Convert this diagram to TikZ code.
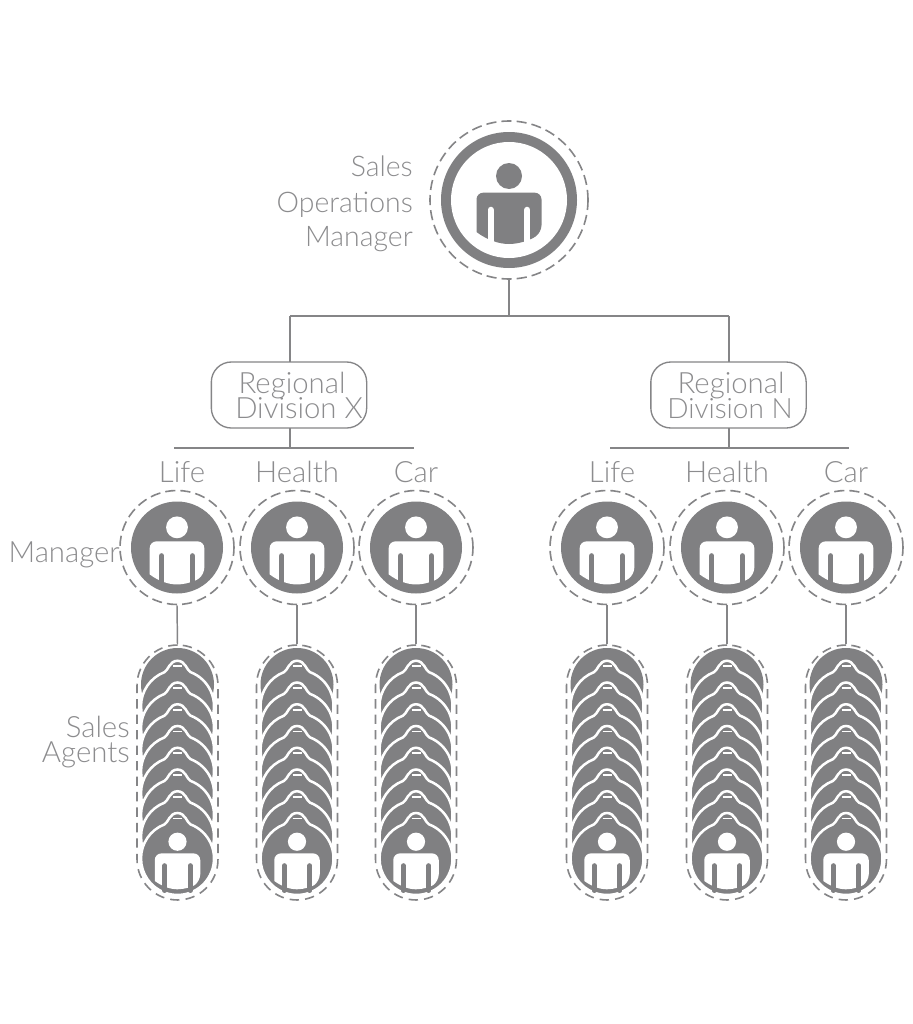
\documentclass[tikz,border=0pt]{standalone}
\usepackage{fontspec}
\setmainfont{Lato Light}
\definecolor{iconc}{HTML}{808082}
\definecolor{linec}{HTML}{858587}
\definecolor{textc}{HTML}{8C8C8E}
\newcommand{\personicon}[5]{% cx cy scale fg bg
  \begin{scope}[shift={(#1,#2)},scale=#3]
    \fill[#4] (0,-24) circle (13);
    \fill[#4,rounded corners=5] (-32.5,32) -- (-32.5,-7.3) -- (32.5,-7.3) -- (32.5,32)
      [sharp corners] .. controls (22,40) and (10,44) .. (0,44) .. controls (-10,44) and (-22,40) .. (-32.5,32) -- cycle;
    \draw[#5,line width=#3*4.9pt,line cap=round] (-18.2,10) -- (-18.2,46) (18.2,10) -- (18.2,46);
  \end{scope}}
\newcommand{\agentstack}[2]{% name, cx
  \begin{scope}[shift={(#2,684.5)}]
    \fill[iconc] (0,0) circle (36.5);
    \foreach \k in {1,...,8}{
      \begin{scope}[yshift={-\k*21.75*0.75pt}]
        \filldraw[iconc,draw=white,line width=1.9pt]
          (-36.5,0) arc (180:249:36.5)
          .. controls (-9.5,-35.5) and (-8,-45.5) .. (0,-45.5)
          .. controls (8,-45.5) and (9.5,-35.5) .. (13.1,-34.1)
          arc (-69:180:36.5) -- cycle;
        \draw[white,line width=1.4pt] (-4.5,-40) -- (4.5,-40);
      \end{scope}}
  \end{scope}
  \personicon{#2}{858.5}{0.7}{white}{iconc}
  \node[capsule] (#1) at (#2,772.5) {};}
\newcommand{\managericon}[2]{% name, cx
  \fill[iconc] (#2,547.5) circle (46);
  \personicon{#2}{547.5}{0.84}{white}{iconc}
  \node[mring] (#1) at (#2,547.5) {};}
\tikzset{
  x=0.75pt,y=-0.75pt,
  dashring/.style={draw=linec,line width=1.2pt,dash pattern=on 7.6pt off 3.8pt,circle,inner sep=0pt},
  mring/.style={dashring,minimum size=85.5pt},
  topring/.style={dashring,minimum size=118.5pt},
  capsule/.style={draw=linec,line width=1.2pt,dash pattern=on 7pt off 4.6pt,rectangle,rounded corners=30.3pt,minimum width=60.7pt,minimum height=191.2pt,inner sep=0pt},
  divbox/.style={draw=linec,line width=1pt,rectangle,rounded corners=15pt,minimum width=116.5pt,minimum height=49.5pt,inner sep=0pt},
  conn/.style={draw=linec,line width=1.1pt},
  lab/.style={text=textc,font=\fontsize{22pt}{24pt}\selectfont,inner sep=0pt,anchor=base},
  labr/.style={lab,anchor=base east},
  labt/.style={labr,font=\fontsize{21.3pt}{24pt}\selectfont},
  labn/.style={lab,font=\fontsize{21pt}{24pt}\selectfont},
}
\begin{document}
\begin{tikzpicture}
\useasboundingbox (0,0) rectangle (913,1024);
\fill[white] (0,0) rectangle (913,1024);
% top icon
\fill[iconc] (509,200) circle (68);
\fill[white] (509,200) circle (58);
\personicon{509}{200}{1}{iconc}{white}
\node[topring] (top) at (509,200) {};
% division boxes
\node[divbox] (divx) at (289,395) {};
\node[divbox] (divn) at (728.5,395) {};
% connector coordinates
\coordinate (hub) at (509,316);
\coordinate (barx) at (290,448);
\coordinate (barxl) at (174,448);
\coordinate (barxr) at (414,448);
\coordinate (barn) at (729,448);
\coordinate (barnl) at (610,448);
\coordinate (barnr) at (849,448);
\draw[conn] (top.south) -- (hub);
\draw[conn] (290,316) -- (729,316);
\draw[conn] (290,316) -- (290,362);
\draw[conn] (729,316) -- (729,362);
\draw[conn] (290,428) -- (barx);
\draw[conn] (729,428) -- (barn);
\draw[conn] (barxl) -- (barxr);
\draw[conn] (barnl) -- (barnr);
% managers
\managericon{m1}{177}
\managericon{m2}{297}
\managericon{m3}{416}
\managericon{m4}{607}
\managericon{m5}{727}
\managericon{m6}{846}
% agents
\agentstack{a1}{177.5}
\agentstack{a2}{297}
\agentstack{a3}{416}
\agentstack{a4}{607}
\agentstack{a5}{727}
\agentstack{a6}{846}
\foreach \i in {1,...,6}{\draw[conn] (m\i.south) -- (a\i.north);}
% text
\node[labt] (t1) at (413,176) {Sales};
\node[labt] (t2) at (413,212) {Operations};
\node[labt] (t3) at (413,246) {Manager};
\node[lab] (rx1) at (292,393) {Regional};
\node[lab] (rx2) at (299,418) {Division X};
\node[lab] (rn1) at (731,393) {Regional};
\node[labn] (rn2) at (730,418) {Division N};
\node[lab] (l1) at (182,482) {Life};
\node[lab] (l2) at (297,482) {Health};
\node[lab] (l3) at (416,482) {Car};
\node[lab] (l4) at (612,482) {Life};
\node[lab] (l5) at (727,482) {Health};
\node[lab] (l6) at (846,482) {Car};
\node[labr] (mg) at (120,562) {Manager};
\node[labr] (s1) at (130,737) {Sales};
\node[labr] (s2) at (130,762) {Agents};
\end{tikzpicture}
\end{document}
